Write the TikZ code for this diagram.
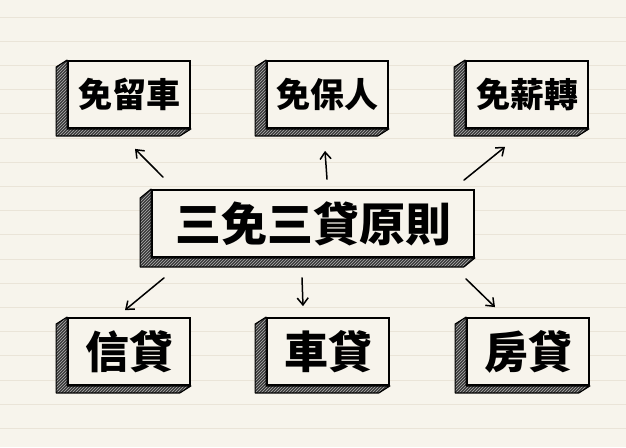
\documentclass[tikz,border=0pt]{standalone}
\usepackage{fontspec}
\newfontfamily\cjk{Noto Sans CJK TC}
\usetikzlibrary{arrows.meta,patterns}
\definecolor{paper}{HTML}{F7F4EC}
\definecolor{ruleline}{HTML}{EAE4D8}
\begin{document}
\begin{tikzpicture}[x=1pt,y=-1pt,
  front/.style={draw=black, line width=1.8pt, fill=paper, minimum height=67pt, inner sep=0pt, font=\cjk\bfseries\fontsize{34}{34}\selectfont},
  bigtext/.style={font=\cjk\bfseries\fontsize{46}{46}\selectfont},
  midtext/.style={font=\cjk\bfseries\fontsize{44}{44}\selectfont},
  sideface/.style={draw=black, line width=1.2pt, line join=round, preaction={fill=black!78}, pattern=north east lines, pattern color=white!70!black},
  arr/.style={line width=1.5pt, line cap=round, -{Straight Barb[length=7pt,width=11pt,line width=1.5pt]}}
]
\useasboundingbox (0,0) rectangle (626,447);
\fill[paper] (0,0) rectangle (626,447);
\foreach \k in {0,...,17} {
  \draw[ruleline, line width=1pt] (0,{17+24.2*\k}) -- (626,{17+24.2*\k});
}
% front faces
\node[front, minimum width=122pt] (t1) at (129,94.5) {免留車};
\node[front, minimum width=121pt] (t2) at (327.5,94.5) {免保人};
\node[front, minimum width=122pt] (t3) at (527,94.5) {免薪轉};
\node[front, bigtext, minimum width=322pt] (c) at (313,223.5) {三免三貸原則};
\node[front, midtext, minimum width=122pt] (b1) at (129,351.5) {信貸};
\node[front, midtext, minimum width=122pt] (b2) at (328,351.5) {車貸};
\node[front, midtext, minimum width=122pt] (b3) at (528,351.5) {房貸};
% side faces
\foreach \n/\d in {t1/7,t2/7,t3/7,c/9,b1/7,b2/7,b3/7} {
  \path[sideface] (\n.north west) -- ([xshift=-11pt,yshift=-\d pt]\n.north west)
    -- ([xshift=-11pt,yshift=-\d pt]\n.south west)
    -- ([xshift=-11pt,yshift=-\d pt]\n.south east)
    -- (\n.south east) -- (\n.south west) -- cycle;
}
% connectors
\draw[arr] ([xshift=-150pt,yshift=12pt]c.north) -- ([xshift=6pt,yshift=-20pt]t1.south);
\draw[arr] ([xshift=14pt,yshift=10pt]c.north) -- ([xshift=-2.5pt,yshift=-22pt]t2.south);
\draw[arr] ([xshift=151pt,yshift=9pt]c.north) -- ([xshift=-22pt,yshift=-18pt]t3.south);
\draw[arr] ([xshift=-149pt,yshift=-20pt]c.south) -- ([xshift=-4pt,yshift=7pt]b1.north);
\draw[arr] ([xshift=-11pt,yshift=-20pt]c.south) -- ([xshift=-25pt,yshift=11pt]b2.north);
\draw[arr] ([xshift=153pt,yshift=-21pt]c.south) -- ([xshift=-33pt,yshift=10pt]b3.north);
\end{tikzpicture}
\end{document}
